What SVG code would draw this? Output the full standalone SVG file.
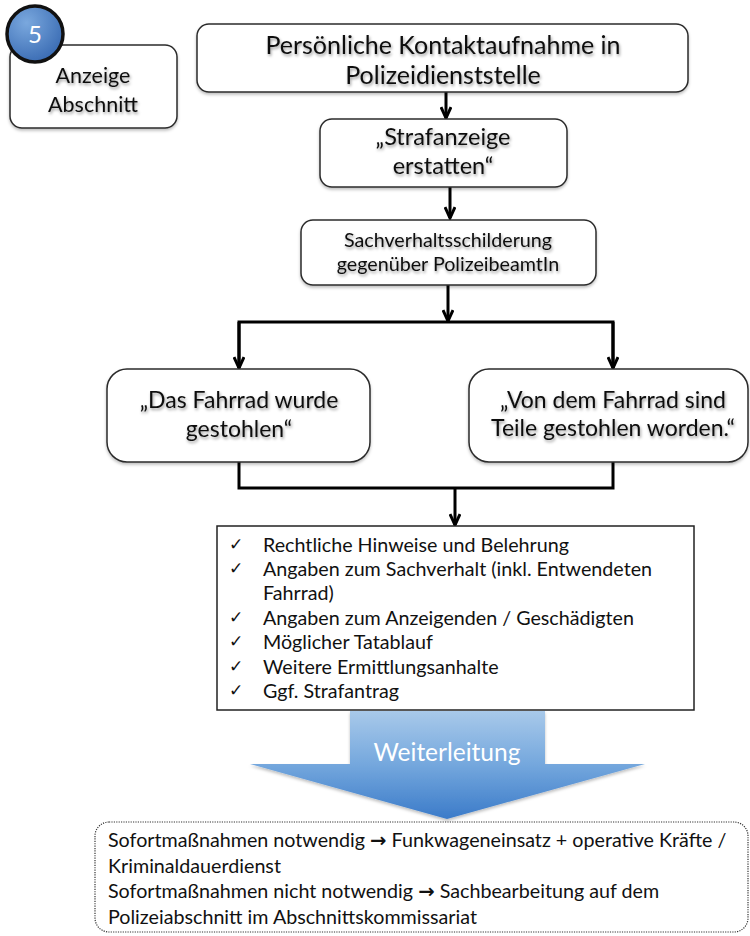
<svg xmlns="http://www.w3.org/2000/svg" width="750" height="936" viewBox="0 0 750 936">
<defs>
<style>
.box{fill:#ffffff;stroke:#2b2b2b;stroke-width:1.5}
.t{font-family:Lato,"Liberation Sans",sans-serif;fill:#111;text-anchor:middle}
.sh{filter:url(#tsh)}
.c{fill:none;stroke:#000;stroke-width:3}
.lt{font-family:Lato,"Liberation Sans",sans-serif;fill:#111;font-size:19.7px}
.ck{font-family:"DejaVu Sans",sans-serif;fill:#111;font-size:17px;font-weight:bold}
.ar{font-family:"DejaVu Sans",sans-serif;font-weight:bold}
</style>
<filter id="tsh" x="-10%" y="-30%" width="120%" height="160%">
<feDropShadow dx="1" dy="2" stdDeviation="1.5" flood-color="#000" flood-opacity="0.4"/>
</filter>
<filter id="bsh" x="-5%" y="-5%" width="110%" height="115%">
<feDropShadow dx="0" dy="2" stdDeviation="1.5" flood-color="#000" flood-opacity="0.25"/>
</filter>
<marker id="ah" viewBox="0 0 14 12" refX="12" refY="6" markerWidth="14" markerHeight="12" markerUnits="userSpaceOnUse" orient="auto">
<path d="M1,1 L12,6 L1,11" fill="none" stroke="#000" stroke-width="3"/>
</marker>
<linearGradient id="blue" x1="0" y1="0" x2="0" y2="1">
<stop offset="0" stop-color="#a8c9ea"/>
<stop offset="0.5" stop-color="#74a7dd"/>
<stop offset="1" stop-color="#3b7bc9"/>
</linearGradient>
<radialGradient id="badge" cx="0.35" cy="0.3" r="0.8">
<stop offset="0" stop-color="#7aa8de"/>
<stop offset="1" stop-color="#3567b0"/>
</radialGradient>
</defs>

<rect width="750" height="936" fill="#ffffff"/>

<g id="connectors">
<line class="c" x1="446" y1="92" x2="446" y2="118" marker-end="url(#ah)"/>
<line class="c" x1="450" y1="187" x2="450" y2="218" marker-end="url(#ah)"/>
<line class="c" x1="448" y1="285" x2="448" y2="321" marker-end="url(#ah)"/>
<polyline class="c" points="239,368 239,322 613,322 613,368"/>
<line class="c" x1="239" y1="322" x2="239" y2="368" marker-end="url(#ah)"/>
<line class="c" x1="613" y1="322" x2="613" y2="368" marker-end="url(#ah)"/>
<polyline class="c" points="239,462 239,488 613,488 613,462"/>
<line class="c" x1="455" y1="488" x2="455" y2="525" marker-end="url(#ah)"/>
</g>

<g id="anzeige-abschnitt">
<rect class="box" x="10" y="45" width="167" height="83" rx="12" filter="url(#bsh)"/>
<text class="t sh" x="93" y="83" font-size="21.5">Anzeige</text>
<text class="t sh" x="93" y="112" font-size="21.5">Abschnitt</text>
</g>

<g id="badge-5">
<circle cx="35" cy="34" r="28" fill="url(#badge)" stroke="#111" stroke-width="3.5"/>
<text x="35" y="43" font-family="Lato,'Liberation Sans',sans-serif" font-size="24" fill="#ffffff" text-anchor="middle">5</text>
</g>

<g id="kontaktaufnahme">
<rect class="box" x="197" y="24" width="491" height="68" rx="12" filter="url(#bsh)"/>
<text class="t sh" x="443" y="54" font-size="25">Persönliche Kontaktaufnahme in</text>
<text class="t sh" x="443" y="84" font-size="25">Polizeidienststelle</text>
</g>

<g id="strafanzeige">
<rect class="box" x="320" y="119" width="247" height="68" rx="12" filter="url(#bsh)"/>
<text class="t sh" x="443" y="145" font-size="23.5">„Strafanzeige</text>
<text class="t sh" x="443" y="174" font-size="23.5">erstatten“</text>
</g>

<g id="sachverhalt">
<rect class="box" x="301" y="220" width="295" height="65" rx="12" filter="url(#bsh)"/>
<text class="t sh" x="448" y="247" font-size="19.7">Sachverhaltsschilderung</text>
<text class="t sh" x="448" y="271" font-size="19.7">gegenüber PolizeibeamtIn</text>
</g>

<g id="fahrrad-gestohlen">
<rect class="box" x="107" y="369" width="263" height="93" rx="20" filter="url(#bsh)"/>
<text class="t sh" x="239" y="408" font-size="23">„Das Fahrrad wurde</text>
<text class="t sh" x="239" y="437" font-size="23">gestohlen“</text>
</g>

<g id="teile-gestohlen">
<rect class="box" x="469" y="369" width="279" height="93" rx="20" filter="url(#bsh)"/>
<text class="t sh" x="613" y="408" font-size="23">„Von dem Fahrrad sind</text>
<text class="t sh" x="613" y="436" font-size="23">Teile gestohlen worden.“</text>
</g>

<g id="checkliste">
<rect x="217" y="526" width="477" height="184" fill="#ffffff" stroke="#222" stroke-width="1.5"/>
<text class="ck" x="229" y="550">✓</text>
<text class="lt" x="263" y="552">Rechtliche Hinweise und Belehrung</text>
<text class="ck" x="229" y="574">✓</text>
<text class="lt" x="263" y="576">Angaben zum Sachverhalt (inkl. Entwendeten</text>
<text class="lt" x="263" y="600">Fahrrad)</text>
<text class="ck" x="229" y="623">✓</text>
<text class="lt" x="263" y="625">Angaben zum Anzeigenden / Geschädigten</text>
<text class="ck" x="229" y="647">✓</text>
<text class="lt" x="263" y="649">Möglicher Tatablauf</text>
<text class="ck" x="229" y="672">✓</text>
<text class="lt" x="263" y="674">Weitere Ermittlungsanhalte</text>
<text class="ck" x="229" y="696">✓</text>
<text class="lt" x="263" y="698">Ggf. Strafantrag</text>
</g>

<g id="weiterleitung">
<path d="M350,711 L545,711 L545,764 L645,764 L447,819 L250,764 L350,764 Z" fill="url(#blue)" filter="url(#bsh)"/>
<text x="447" y="761" font-family="Lato,'Liberation Sans',sans-serif" font-size="24.5" fill="#ffffff" text-anchor="middle">Weiterleitung</text>
</g>

<g id="sofortmassnahmen">
<rect x="95" y="822" width="653" height="110" rx="14" fill="#ffffff" stroke="#333" stroke-width="1.2" stroke-dasharray="1.2,1.2"/>
<text class="lt" x="108" y="847">Sofortmaßnahmen notwendig <tspan class="ar">→</tspan> Funkwageneinsatz + operative Kräfte /</text>
<text class="lt" x="108" y="873">Kriminaldauerdienst</text>
<text class="lt" x="108" y="898">Sofortmaßnahmen nicht notwendig  <tspan class="ar">→</tspan> Sachbearbeitung auf dem</text>
<text class="lt" x="108" y="924">Polizeiabschnitt im Abschnittskommissariat</text>
</g>
</svg>
